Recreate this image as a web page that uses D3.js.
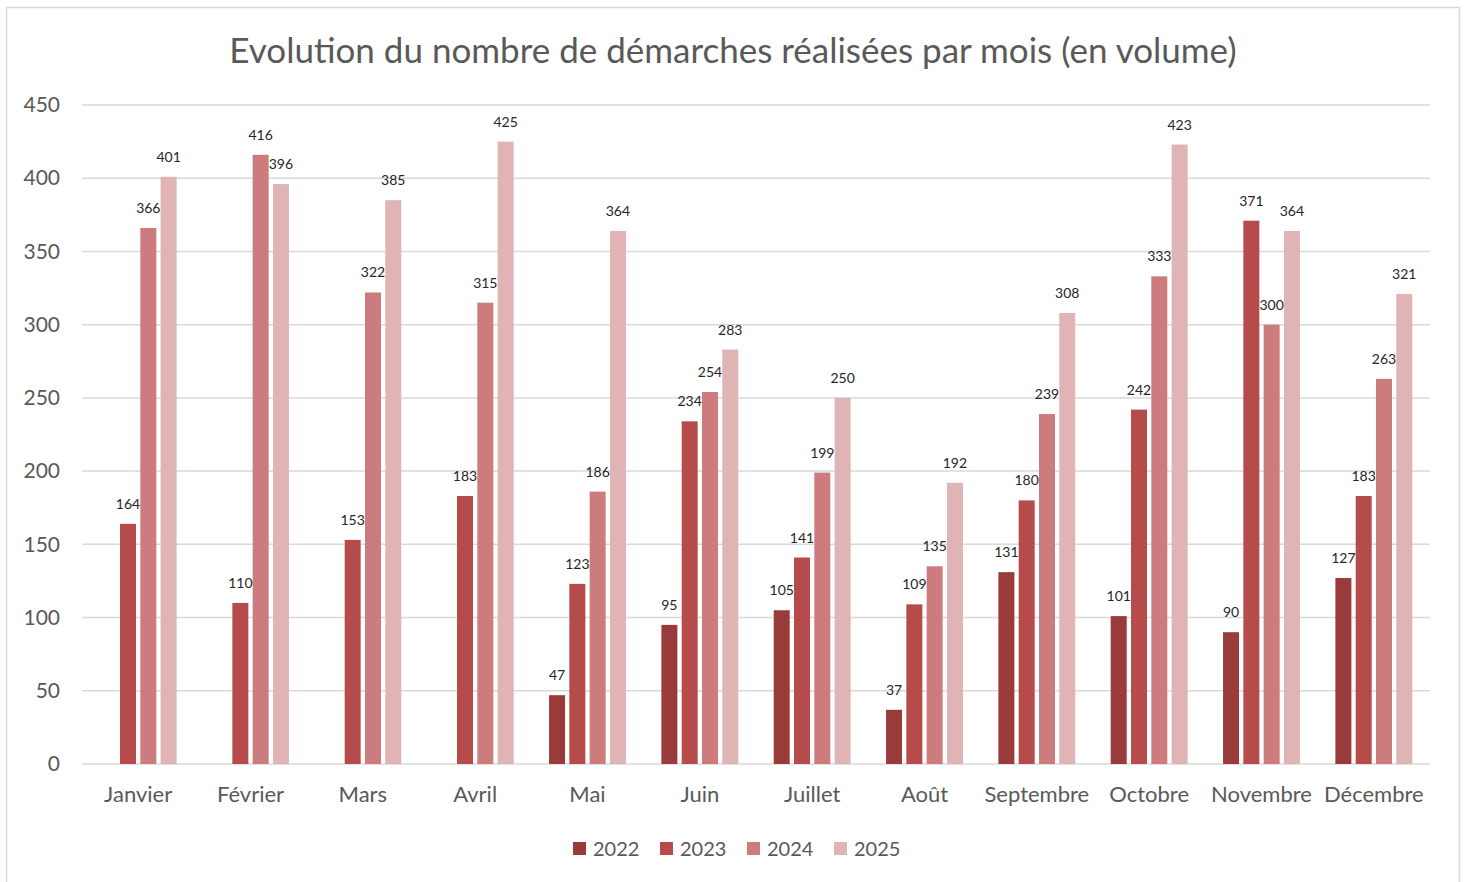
<!DOCTYPE html>
<html><head><meta charset="utf-8">
<script src="https://cdn.jsdelivr.net/npm/d3@7"></script>
<style>body{margin:0;background:#fff;} svg{display:block;} text{font-family:Lato, "Open Sans", sans-serif;}</style>
</head><body>
<svg id="c" width="1465" height="882"></svg>
<script>
const months = ["Janvier","Février","Mars","Avril","Mai","Juin","Juillet","Août","Septembre","Octobre","Novembre","Décembre"];
const seriesNames = ["2022","2023","2024","2025"];
const v2022 = [null,null,null,null,47,95,105,37,131,101,90,127];
const v2023 = [164,110,153,183,123,234,141,109,180,242,371,183];
const v2024 = [366,416,322,315,186,254,199,135,239,333,300,263];
const v2025 = [401,396,385,425,364,283,250,192,308,423,364,321];
const yTicks = [0,50,100,150,200,250,300,350,400,450];
const colors = ["#9a3b3b","#b54b4b","#cc7c7c","#e0b4b4"];
const title = "Evolution du nombre de démarches réalisées par mois (en volume)";

const seriesVals = [v2022,v2023,v2024,v2025];
const svg = d3.select("#c");
svg.append("rect").attr("x",6.5).attr("y",7.5).attr("width",1453).attr("height",880).attr("fill","#fff").attr("stroke","#d9d9d9").attr("stroke-width",1.5);

const y = d3.scaleLinear().domain([0,450]).range([764,105]);
const x0 = d3.scaleBand().domain(months).range([82,1430]).padding(0);
const x1 = d3.scaleBand().domain(seriesNames).range([-38.45,38.45]).paddingInner(0.212).paddingOuter(0);

// gridlines
svg.append("g").selectAll("line").data(yTicks).join("line")
  .attr("x1",82).attr("x2",1430).attr("y1",d=>y(d)).attr("y2",d=>y(d))
  .attr("stroke","#d9d9d9").attr("stroke-width",1.5);

// y axis labels
const yAxis = d3.axisLeft(y).tickValues(yTicks).tickSize(0).tickPadding(0);
const gy = svg.append("g").attr("transform","translate(60,0)").call(yAxis);
gy.select(".domain").remove();
gy.selectAll("text").attr("fill","#595959").style("font-size","21px").style("font-family","Lato, sans-serif");

// x axis labels
const xAxis = d3.axisBottom(x0).tickSize(0).tickPadding(0);
const gx = svg.append("g").attr("transform","translate(0,786)").call(xAxis);
gx.select(".domain").remove();
gx.selectAll("text").attr("fill","#595959").style("font-size","22px").style("font-family","Lato, sans-serif");

// bars
const data = [];
months.forEach((m,i)=>seriesNames.forEach((s,j)=>{ if(seriesVals[j][i]!=null) data.push({m,s,j,v:seriesVals[j][i]}); }));
const gb = svg.append("g");
gb.selectAll("rect").data(data).join("rect")
  .attr("x",d=>x0(d.m)+x0.bandwidth()/2+x1(d.s))
  .attr("width",x1.bandwidth())
  .attr("y",d=>y(d.v)).attr("height",d=>y(0)-y(d.v))
  .attr("fill",d=>colors[d.j]);
gb.selectAll("text").data(data).join("text")
  .attr("x",d=>x0(d.m)+x0.bandwidth()/2+x1(d.s)+x1.bandwidth()/2)
  .attr("y",d=>y(d.v)-15)
  .attr("text-anchor","middle").attr("fill","#262626")
  .style("font-size","14px").text(d=>d.v);

// title
svg.append("text").attr("x",733).attr("y",63).attr("text-anchor","middle")
  .attr("fill","#595959").style("font-size","35px").text(title);

// legend
const lg = svg.append("g");
seriesNames.forEach((s,j)=>{
  const lx = 573 + j*87;
  lg.append("rect").attr("x",lx).attr("y",842).attr("width",13).attr("height",13).attr("fill",colors[j]);
  lg.append("text").attr("x",lx+20).attr("y",856).attr("fill","#595959").style("font-size","20px").text(s);
});
</script>
</body></html>
